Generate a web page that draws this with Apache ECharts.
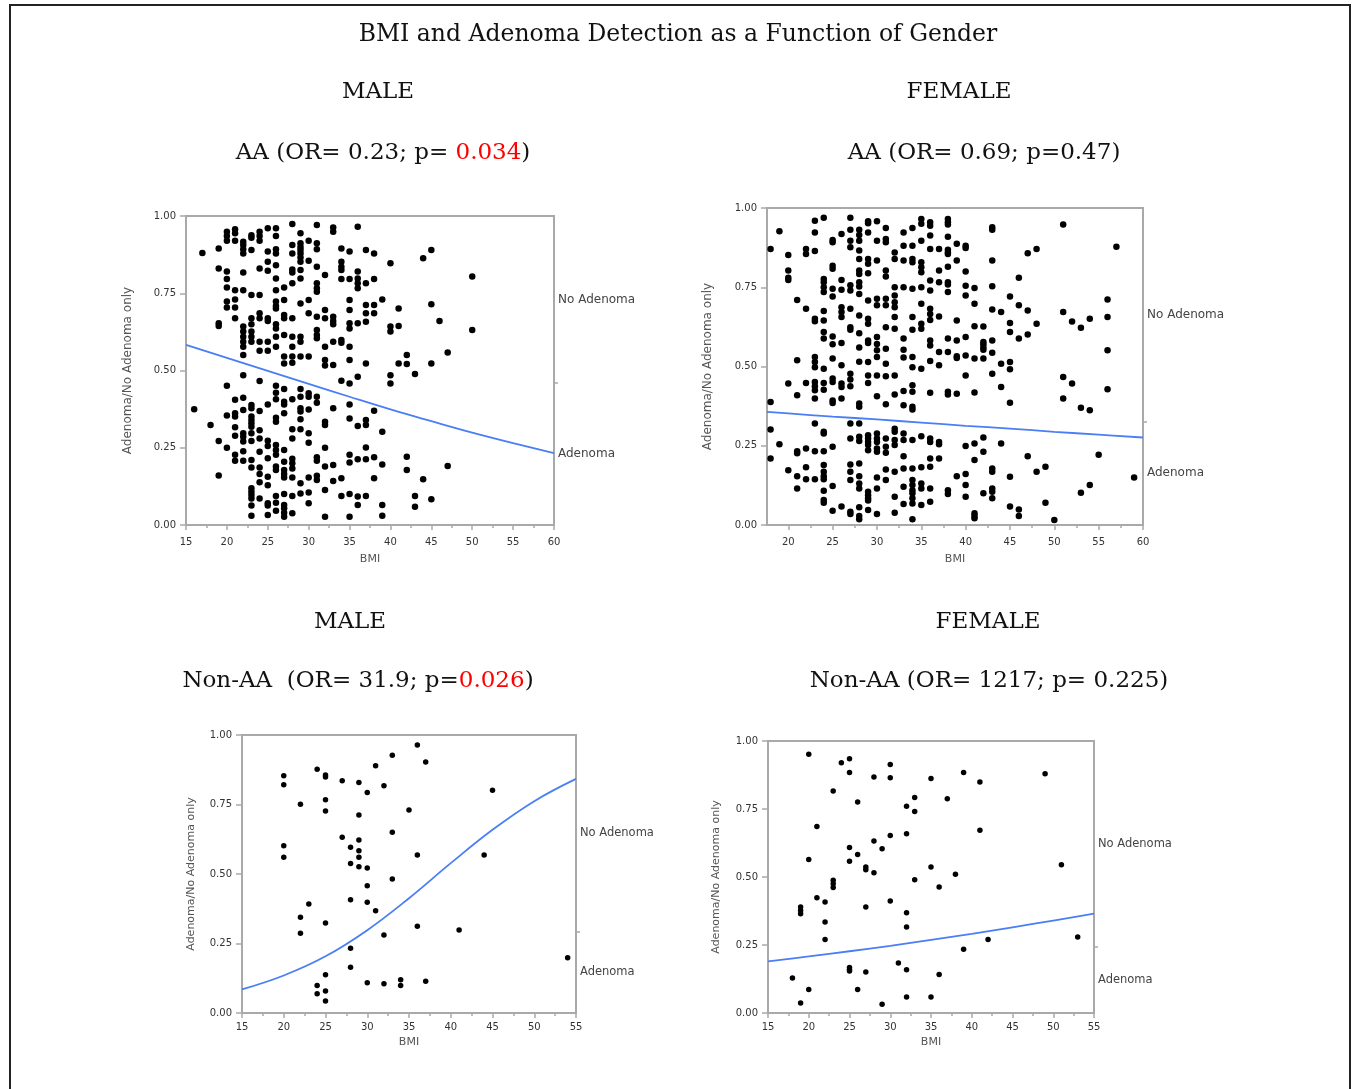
<!DOCTYPE html>
<html>
<head>
<meta charset="utf-8">
<script src="https://cdn.jsdelivr.net/npm/echarts@6/dist/echarts.min.js"></script>
<style>
html, body { margin: 0; padding: 0; background: #fff; }
#chart { width: 1354px; height: 1089px; }
</style>
</head>
<body>
<div id="chart"></div>
<script>
// ---- values: [BMI, [jittered response values]] ----
const maleAA = [
  [16, [0.375]], [17, [0.88]], [18, [0.324]],
  [19, [0.895, 0.83, 0.653, 0.644, 0.272, 0.16]],
  [20, [0.949, 0.935, 0.92, 0.82, 0.796, 0.769, 0.723, 0.704, 0.451, 0.354, 0.25]],
  [21, [0.957, 0.944, 0.92, 0.76, 0.73, 0.704, 0.669, 0.405, 0.362, 0.351, 0.316, 0.289, 0.227, 0.208]],
  [22, [0.917, 0.906, 0.892, 0.879, 0.817, 0.76, 0.642, 0.626, 0.609, 0.593, 0.577, 0.55, 0.485, 0.412, 0.372, 0.297, 0.286, 0.27, 0.239, 0.208]],
  [23, [0.938, 0.93, 0.89, 0.744, 0.669, 0.65, 0.626, 0.609, 0.593, 0.388, 0.378, 0.351, 0.34, 0.329, 0.318, 0.297, 0.272, 0.21, 0.186, 0.119, 0.108, 0.097, 0.086, 0.063, 0.03]],
  [24, [0.949, 0.935, 0.92, 0.83, 0.744, 0.685, 0.669, 0.593, 0.564, 0.466, 0.369, 0.307, 0.28, 0.237, 0.186, 0.165, 0.138, 0.086]],
  [25, [0.96, 0.885, 0.852, 0.823, 0.669, 0.66, 0.593, 0.564, 0.39, 0.273, 0.256, 0.216, 0.156, 0.129, 0.07, 0.063, 0.032]],
  [26, [0.96, 0.935, 0.892, 0.879, 0.841, 0.798, 0.76, 0.723, 0.709, 0.701, 0.65, 0.636, 0.609, 0.577, 0.451, 0.428, 0.407, 0.347, 0.334, 0.259, 0.243, 0.227, 0.189, 0.178, 0.094, 0.072, 0.046]],
  [27, [0.769, 0.728, 0.68, 0.669, 0.615, 0.545, 0.523, 0.44, 0.399, 0.39, 0.362, 0.243, 0.205, 0.178, 0.165, 0.154, 0.1, 0.065, 0.054, 0.04, 0.027]],
  [28, [0.974, 0.906, 0.879, 0.827, 0.817, 0.782, 0.669, 0.609, 0.577, 0.545, 0.525, 0.407, 0.31, 0.28, 0.214, 0.2, 0.183, 0.154, 0.094, 0.038]],
  [29, [0.944, 0.912, 0.9, 0.89, 0.879, 0.866, 0.852, 0.825, 0.798, 0.717, 0.609, 0.593, 0.545, 0.44, 0.415, 0.378, 0.367, 0.342, 0.31, 0.135, 0.102]],
  [30, [0.92, 0.855, 0.728, 0.685, 0.545, 0.426, 0.415, 0.374, 0.297, 0.266, 0.154, 0.105, 0.07]],
  [31, [0.971, 0.912, 0.892, 0.836, 0.782, 0.766, 0.755, 0.674, 0.631, 0.615, 0.604, 0.415, 0.396, 0.219, 0.208, 0.159, 0.146]],
  [32, [0.809, 0.696, 0.669, 0.577, 0.534, 0.516, 0.334, 0.324, 0.25, 0.189, 0.113, 0.027]],
  [33, [0.963, 0.949, 0.674, 0.66, 0.65, 0.593, 0.518, 0.378, 0.194, 0.142]],
  [34, [0.895, 0.852, 0.836, 0.825, 0.796, 0.599, 0.59, 0.467, 0.151, 0.094]],
  [35, [0.885, 0.796, 0.728, 0.696, 0.653, 0.636, 0.577, 0.534, 0.458, 0.39, 0.345, 0.227, 0.202, 0.1, 0.027]],
  [36, [0.965, 0.82, 0.798, 0.782, 0.766, 0.653, 0.48, 0.32, 0.213, 0.092, 0.065]],
  [37, [0.89, 0.782, 0.712, 0.685, 0.658, 0.523, 0.34, 0.324, 0.251, 0.213, 0.094]],
  [38, [0.879, 0.796, 0.712, 0.685, 0.37, 0.219, 0.151]],
  [39, [0.73, 0.302, 0.196, 0.065, 0.03]],
  [40, [0.847, 0.642, 0.626, 0.485, 0.458]],
  [41, [0.701, 0.644, 0.523]],
  [42, [0.55, 0.521, 0.221, 0.178]],
  [43, [0.489, 0.094, 0.059]],
  [44, [0.863, 0.148]],
  [45, [0.89, 0.714, 0.523, 0.083]],
  [46, [0.66]], [47, [0.558, 0.191]], [50, [0.804, 0.631]]
];

const femaleAA = [
  [18, [0.871, 0.388, 0.301, 0.21]],
  [19, [0.927, 0.255]],
  [20, [0.852, 0.803, 0.78, 0.773, 0.446, 0.173]],
  [21, [0.71, 0.52, 0.409, 0.233, 0.226, 0.154, 0.115]],
  [22, [0.871, 0.855, 0.682, 0.448, 0.241, 0.182, 0.144]],
  [23, [0.96, 0.923, 0.864, 0.651, 0.643, 0.53, 0.514, 0.498, 0.451, 0.438, 0.425, 0.399, 0.32, 0.233, 0.144]],
  [24, [0.969, 0.776, 0.766, 0.75, 0.735, 0.675, 0.645, 0.609, 0.588, 0.493, 0.448, 0.427, 0.294, 0.289, 0.233, 0.189, 0.168, 0.154, 0.144, 0.108, 0.079, 0.07]],
  [25, [0.899, 0.892, 0.818, 0.808, 0.745, 0.721, 0.595, 0.57, 0.525, 0.462, 0.451, 0.393, 0.385, 0.247, 0.123, 0.045]],
  [26, [0.918, 0.773, 0.742, 0.687, 0.672, 0.656, 0.574, 0.504, 0.446, 0.435, 0.399, 0.058]],
  [27, [0.969, 0.931, 0.897, 0.876, 0.756, 0.74, 0.682, 0.624, 0.616, 0.477, 0.459, 0.438, 0.32, 0.273, 0.191, 0.168, 0.142, 0.042, 0.035]],
  [28, [0.931, 0.915, 0.897, 0.866, 0.839, 0.803, 0.792, 0.766, 0.752, 0.729, 0.661, 0.605, 0.56, 0.515, 0.383, 0.373, 0.32, 0.278, 0.265, 0.194, 0.154, 0.131, 0.115, 0.056, 0.028, 0.018]],
  [29, [0.958, 0.952, 0.923, 0.839, 0.824, 0.794, 0.708, 0.651, 0.635, 0.582, 0.574, 0.514, 0.472, 0.448, 0.283, 0.273, 0.262, 0.252, 0.236, 0.105, 0.094, 0.084, 0.077, 0.047]],
  [30, [0.958, 0.897, 0.834, 0.714, 0.693, 0.593, 0.571, 0.551, 0.53, 0.472, 0.406, 0.289, 0.273, 0.262, 0.241, 0.231, 0.15, 0.115, 0.035]],
  [31, [0.937, 0.902, 0.892, 0.803, 0.784, 0.714, 0.693, 0.624, 0.556, 0.509, 0.469, 0.381, 0.273, 0.247, 0.228, 0.175, 0.142]],
  [32, [0.86, 0.839, 0.75, 0.724, 0.703, 0.687, 0.656, 0.619, 0.472, 0.412, 0.304, 0.294, 0.268, 0.252, 0.168, 0.089, 0.039]],
  [33, [0.923, 0.881, 0.834, 0.75, 0.588, 0.553, 0.528, 0.423, 0.378, 0.289, 0.268, 0.217, 0.178, 0.121, 0.066]],
  [34, [0.937, 0.881, 0.839, 0.829, 0.745, 0.656, 0.616, 0.53, 0.498, 0.441, 0.42, 0.373, 0.364, 0.268, 0.178, 0.142, 0.126, 0.11, 0.1, 0.084, 0.068, 0.018]],
  [35, [0.965, 0.95, 0.897, 0.829, 0.813, 0.797, 0.75, 0.698, 0.635, 0.619, 0.493, 0.28, 0.182, 0.131, 0.115, 0.063]],
  [36, [0.955, 0.944, 0.913, 0.871, 0.771, 0.74, 0.682, 0.666, 0.647, 0.582, 0.566, 0.517, 0.417, 0.273, 0.262, 0.21, 0.184, 0.115, 0.073]],
  [37, [0.871, 0.803, 0.766, 0.658, 0.546, 0.504, 0.262, 0.255, 0.21]],
  [38, [0.965, 0.955, 0.948, 0.909, 0.868, 0.86, 0.855, 0.815, 0.766, 0.759, 0.735, 0.588, 0.546, 0.42, 0.412, 0.11, 0.098]],
  [39, [0.887, 0.834, 0.645, 0.582, 0.532, 0.527, 0.414, 0.154]],
  [40, [0.881, 0.874, 0.8, 0.755, 0.724, 0.593, 0.535, 0.472, 0.249, 0.161, 0.126, 0.089]],
  [41, [0.748, 0.698, 0.627, 0.525, 0.418, 0.257, 0.205, 0.037, 0.028, 0.021]],
  [42, [0.626, 0.577, 0.57, 0.561, 0.553, 0.525, 0.276, 0.231, 0.1]],
  [43, [0.939, 0.931, 0.834, 0.753, 0.68, 0.582, 0.543, 0.477, 0.178, 0.168, 0.115, 0.105, 0.084]],
  [44, [0.672, 0.509, 0.435, 0.257]],
  [45, [0.721, 0.637, 0.609, 0.514, 0.491, 0.386, 0.152, 0.058]],
  [46, [0.78, 0.693, 0.588, 0.049, 0.028]],
  [47, [0.857, 0.677, 0.601, 0.217]],
  [48, [0.871, 0.635, 0.168]],
  [49, [0.184, 0.07]], [50, [0.016]],
  [51, [0.948, 0.672, 0.467, 0.399]],
  [52, [0.642, 0.446]],
  [53, [0.622, 0.37, 0.102]],
  [54, [0.651, 0.362, 0.126]],
  [55, [0.222]],
  [56, [0.711, 0.656, 0.551, 0.428]],
  [57, [0.878]], [59, [0.15]]
];

const maleNonAA = [
  [20, [0.853, 0.821, 0.602, 0.56]],
  [22, [0.751, 0.344, 0.287]],
  [23, [0.392]],
  [24, [0.877, 0.099, 0.069]],
  [25, [0.856, 0.849, 0.767, 0.727, 0.324, 0.138, 0.079, 0.043]],
  [27, [0.835, 0.632]],
  [28, [0.596, 0.538, 0.407, 0.233, 0.165]],
  [29, [0.829, 0.712, 0.622, 0.584, 0.56, 0.526]],
  [30, [0.793, 0.522, 0.458, 0.398, 0.109]],
  [31, [0.889, 0.368]],
  [32, [0.817, 0.281, 0.105]],
  [33, [0.927, 0.65, 0.482]],
  [34, [0.12, 0.099]],
  [35, [0.73]],
  [36, [0.964, 0.568, 0.312]],
  [37, [0.903, 0.114]],
  [41, [0.299]], [44, [0.568]], [45, [0.801]], [54, [0.199]]
];

const femaleNonAA = [
  [18, [0.129]],
  [19, [0.39, 0.377, 0.365, 0.037]],
  [20, [0.951, 0.564, 0.086]],
  [21, [0.686, 0.424]],
  [22, [0.408, 0.335, 0.27]],
  [23, [0.816, 0.488, 0.475, 0.461]],
  [24, [0.92]],
  [25, [0.935, 0.884, 0.608, 0.558, 0.167, 0.159, 0.154]],
  [26, [0.776, 0.583, 0.086]],
  [27, [0.537, 0.527, 0.39, 0.151]],
  [28, [0.868, 0.632, 0.516]],
  [29, [0.604, 0.032]],
  [30, [0.914, 0.865, 0.653, 0.412]],
  [31, [0.184]],
  [32, [0.76, 0.659, 0.369, 0.316, 0.159, 0.059]],
  [33, [0.792, 0.741, 0.49]],
  [35, [0.862, 0.537, 0.059]],
  [36, [0.463, 0.142]],
  [37, [0.788]], [38, [0.51]],
  [39, [0.884, 0.234]],
  [41, [0.849, 0.672]],
  [42, [0.27]], [49, [0.88]], [51, [0.545]], [53, [0.279]]
];

// fitted logistic curves, read at the tick positions
const curveX = [
  [15, 20, 25, 30, 35, 40, 45, 50, 55, 60],
  [17.6, 20, 25, 30, 35, 40, 45, 50, 55, 60],
  [15, 20, 25, 30, 35, 40, 45, 50, 55],
  [15, 20, 25, 30, 35, 40, 45, 50, 55]
];
const curveY = [
  [0.583, 0.541, 0.499, 0.457, 0.415, 0.374, 0.336, 0.299, 0.265, 0.233],
  [0.357, 0.352, 0.342, 0.333, 0.323, 0.313, 0.304, 0.294, 0.285, 0.276],
  [0.085, 0.135, 0.204, 0.298, 0.413, 0.539, 0.659, 0.762, 0.842],
  [0.19, 0.208, 0.227, 0.247, 0.269, 0.291, 0.315, 0.34, 0.365]
];

// axes
const xTicks = [
  [15, 20, 25, 30, 35, 40, 45, 50, 55, 60],
  [20, 25, 30, 35, 40, 45, 50, 55, 60],
  [15, 20, 25, 30, 35, 40, 45, 50, 55],
  [15, 20, 25, 30, 35, 40, 45, 50, 55]
];
const xMinor = [
  [17.5, 22.5, 27.5, 32.5, 37.5, 42.5, 47.5, 52.5, 57.5],
  [22.5, 27.5, 32.5, 37.5, 42.5, 47.5, 52.5, 57.5],
  [17.5, 22.5, 27.5, 32.5, 37.5, 42.5, 47.5, 52.5],
  [17.5, 22.5, 27.5, 32.5, 37.5, 42.5, 47.5, 52.5]
];
const xRange = [[15, 60], [17.6, 60], [15, 55], [15, 55]];
const splitValue = [0.46, 0.325, 0.294, 0.245];     // right-axis tick
const noAdenomaPos = [0.73, 0.663, 0.647, 0.623];
const adenomaPos = [0.23, 0.163, 0.147, 0.123];

// text
const mainTitle = 'BMI and Adenoma Detection as a Function of Gender';
const genders = ['MALE', 'FEMALE', 'MALE', 'FEMALE'];
const statText = [
  ['AA (OR= 0.23; p= ', '0.034', ')'],
  ['AA (OR= 0.69; p=0.47)', '', ''],
  ['Non-AA  (OR= 31.9; p=', '0.026', ')'],
  ['Non-AA (OR= 1217; p= 0.225)', '', '']
];

// ---- layout ----
const grids = [
  { left: 186, top: 216, width: 368, height: 309 },
  { left: 767, top: 208, width: 376, height: 317 },
  { left: 242, top: 735, width: 334, height: 278 },
  { left: 768, top: 741, width: 326, height: 272 }
];
const genderPos = [[378, 92], [959, 92], [350, 622], [988, 622]];
const statPos = [[383, 153], [984, 153], [358, 681], [989, 681]];
const yNameGap = [52, 53, 45, 46];
const xNameGap = [29, 29, 24, 24];
const xLabelMargin = [12, 12, 9, 9];
const dotSize = [6.5, 6.5, 5.5, 5.5];
const sideFont = [12, 12, 11.5, 11.5];
const yNameFont = [12, 12, 11, 11];

const SANS = '"DejaVu Sans", sans-serif';
const SERIF = '"DejaVu Serif", serif';
const frame = '#a9a9a9';

const pointSets = [maleAA, femaleAA, maleNonAA, femaleNonAA];
const toPoints = cols => cols.flatMap(([x, ys]) => ys.map(y => [x, y]));

const xAxes = [], yAxes = [], series = [];
grids.forEach((g, i) => {
  xAxes.push({
    type: 'value', gridIndex: i, min: xRange[i][0], max: xRange[i][1], position: 'bottom',
    name: 'BMI', nameLocation: 'middle', nameGap: xNameGap[i],
    nameTextStyle: { fontFamily: SANS, fontSize: 11, color: '#555' },
    axisLine: { lineStyle: { color: frame, width: 2 } },
    axisTick: { customValues: xTicks[i], length: 5, lineStyle: { color: frame, width: 1.5 } },
    axisLabel: { customValues: xTicks[i], margin: xLabelMargin[i], fontFamily: SANS, fontSize: 10, color: '#333' },
    splitLine: { show: false }
  });
  yAxes.push({
    type: 'value', gridIndex: i, min: 0, max: 1, interval: 0.25, position: 'left',
    name: 'Adenoma/No Adenoma only', nameLocation: 'middle', nameGap: yNameGap[i],
    nameTextStyle: { fontFamily: SANS, fontSize: yNameFont[i], color: '#555' },
    axisLine: { show: true, lineStyle: { color: frame, width: 2 } },
    axisTick: { show: true, length: 6, lineStyle: { color: frame, width: 1.5 } },
    axisLabel: { margin: 10, fontFamily: SANS, fontSize: 10, color: '#333',
      formatter: v => v.toFixed(2) },
    splitLine: { show: false }
  });
  yAxes.push({
    type: 'value', gridIndex: i, min: 0, max: 1, position: 'right',
    axisLine: { show: true, lineStyle: { color: frame, width: 2 } },
    axisTick: { show: true, customValues: [splitValue[i]], length: 4, lineStyle: { color: frame, width: 1.5 } },
    axisLabel: { customValues: [noAdenomaPos[i], adenomaPos[i]], margin: 4,
      fontFamily: SANS, fontSize: sideFont[i], color: '#444',
      formatter: v => (v > splitValue[i] ? 'No Adenoma' : 'Adenoma') },
    splitLine: { show: false }
  });
  series.push({
    type: 'scatter', xAxisIndex: i, yAxisIndex: 2 * i,
    data: toPoints(pointSets[i]), symbolSize: dotSize[i],
    itemStyle: { color: '#000', opacity: 1 }, z: 3
  });
  series.push({
    type: 'line', xAxisIndex: i, yAxisIndex: 2 * i,
    data: curveX[i].map((x, k) => [x, curveY[i][k]]),
    smooth: 0.4, showSymbol: false,
    lineStyle: { color: '#4a7ef5', width: 1.8 }, z: 4
  });
});
// minor x ticks on helper axes sharing the grids
grids.forEach((g, i) => {
  xAxes.push({
    type: 'value', gridIndex: i, min: xRange[i][0], max: xRange[i][1], position: 'bottom',
    axisLine: { show: false },
    axisTick: { customValues: xMinor[i], length: 3, lineStyle: { color: frame, width: 1.5 } },
    axisLabel: { show: false }, splitLine: { show: false }
  });
});

const graphics = [
  { type: 'rect', silent: true, shape: { x: 10, y: 5, width: 1340, height: 1100 },
    style: { fill: 'none', stroke: '#222', lineWidth: 2 } },
  { type: 'text', x: 678, y: 35,
    style: { text: mainTitle, fontFamily: SERIF, fontSize: 23.5, fill: '#111', align: 'center', verticalAlign: 'middle' } }
];
grids.forEach((g, i) => {
  graphics.push({ type: 'text', x: genderPos[i][0], y: genderPos[i][1],
    style: { text: genders[i], fontFamily: SERIF, fontSize: 23, fill: '#111', align: 'center', verticalAlign: 'middle' } });
  const [a, r, b] = statText[i];
  let txt = '{a|' + a + '}';
  if (r) txt += '{r|' + r + '}{a|' + b + '}';
  graphics.push({ type: 'text', x: statPos[i][0], y: statPos[i][1],
    style: { text: txt, align: 'center', verticalAlign: 'middle', fontFamily: SERIF, fontSize: 23,
      rich: {
        a: { fontFamily: SERIF, fontSize: 23, fill: '#111' },
        r: { fontFamily: SERIF, fontSize: 23, fill: '#ff0000' }
      } } });
});

const myChart = echarts.init(document.getElementById('chart'), null, { renderer: 'canvas' });
myChart.setOption({
  animation: false,
  backgroundColor: '#fff',
  grid: grids.map(g => Object.assign({ show: true, borderColor: frame, borderWidth: 2, backgroundColor: 'transparent' }, g)),
  xAxis: xAxes,
  yAxis: yAxes,
  series: series,
  graphic: graphics
});
</script>
</body>
</html>
